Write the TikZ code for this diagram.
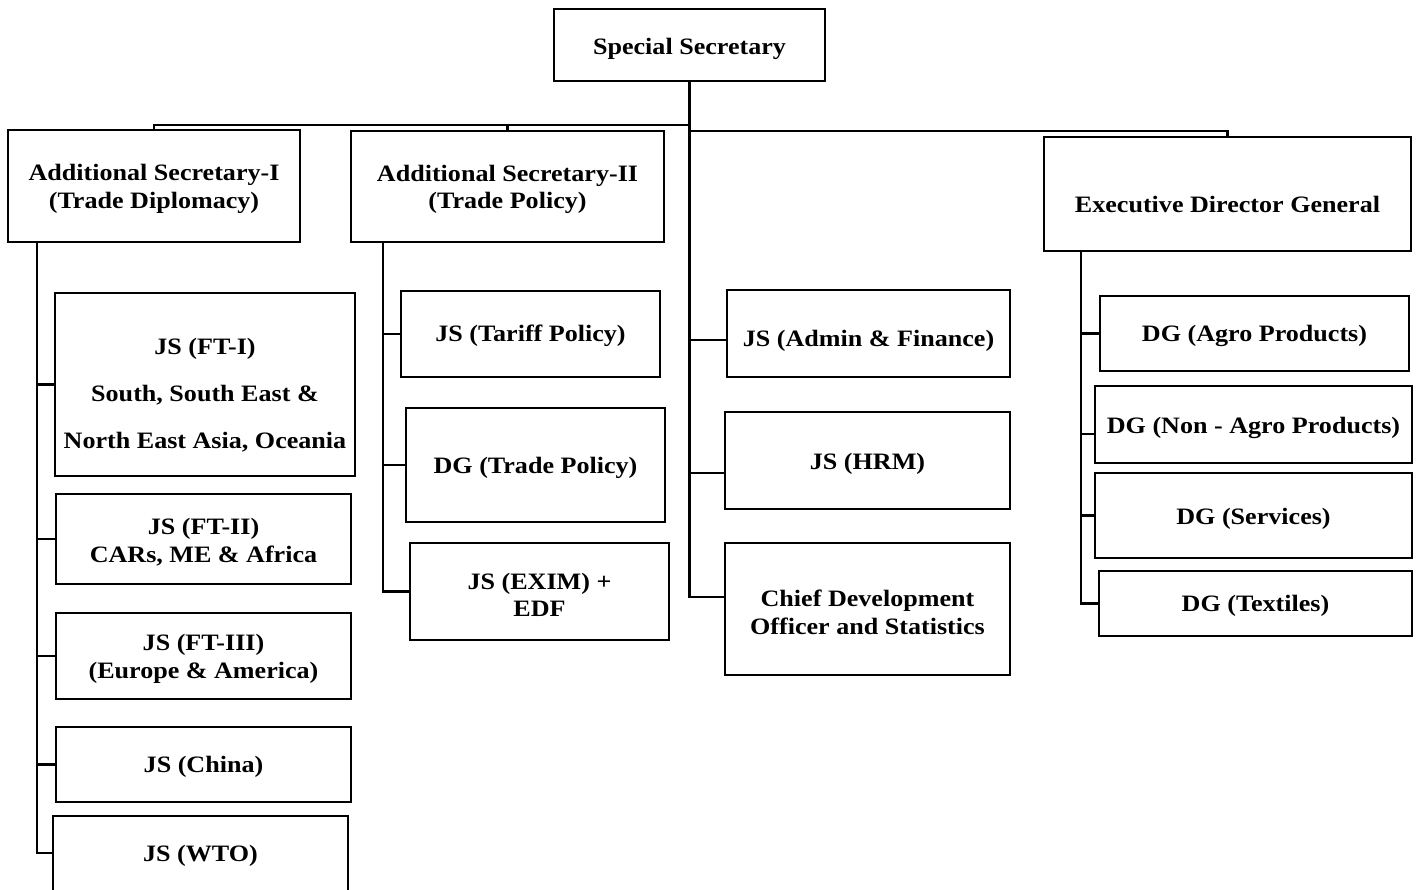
\documentclass[tikz,border=0pt]{standalone}
\usepackage{fontspec}
\setmainfont{Liberation Serif}[FakeStretch=1.11]
\tikzset{
  box/.style={draw, line width=2.8pt, rectangle, inner sep=0pt},
  txt/.style={font=\bfseries\fontsize{23.5}{27.5}\selectfont, align=center, inner sep=0pt, yshift=-3pt},
  conn/.style={line width=2.3pt},
}
\newcommand{\orgbox}[8]{%
  \node[box, minimum width={(#4-#2)*1pt}, minimum height={(#5-#3)*1pt}] (#1) at ({(#2+#4)/2},{(#3+#5)/2}) {};
  \node[txt] (#1-t) at (#6,#7) {#8};}
\begin{document}
\begin{tikzpicture}[x=1pt,y=-1pt]
\useasboundingbox (0,0) rectangle (1416,890);
\fill[white] (0,0) rectangle (1416,890);
\clip (0,0) rectangle (1416,890);

\orgbox{ss}{554}{9}{825}{81}{689.5}{46}{Special Secretary}
\orgbox{as1}{8}{130}{300}{242}{154}{186}{Additional Secretary-I\\(Trade Diplomacy)}
\orgbox{as2}{351}{131}{664}{242}{507.5}{186.5}{Additional Secretary-II\\(Trade Policy)}
\orgbox{edg}{1044}{137}{1411}{251}{1227.5}{201}{Executive Director General}

\orgbox{ft1}{55}{293}{355}{476}{205}{392}{JS (FT-I)\\[19.5pt]South, South East \&\\[19.5pt]North East Asia, Oceania}
\orgbox{ft2}{56}{494}{351}{584}{203.5}{539}{JS (FT-II)\\CARs, ME \& Africa}
\orgbox{ft3}{56}{613}{351}{699}{203.5}{656}{JS (FT-III)\\(Europe \& America)}
\orgbox{china}{56}{727}{351}{802}{203.5}{764}{JS (China)}
\orgbox{wto}{53}{816}{348}{900}{200.5}{853}{JS (WTO)}

\orgbox{tariff}{401}{291}{660}{377}{530.5}{333}{JS (Tariff Policy)}
\orgbox{dgtp}{406}{408}{665}{522}{535.5}{465}{DG (Trade Policy)}
\orgbox{exim}{410}{543}{669}{640}{539.5}{592}{JS (EXIM) +\\EDF}

\orgbox{admin}{727}{290}{1010}{377}{868.5}{338}{JS (Admin \& Finance)}
\orgbox{hrm}{725}{412}{1010}{509}{867.5}{461}{JS (HRM)}
\orgbox{cdo}{725}{543}{1010}{675}{867.5}{609.5}{Chief Development\\Officer and Statistics}

\orgbox{agro}{1100}{296}{1409}{371}{1254.5}{333}{DG (Agro Products)}
\orgbox{nagro}{1095}{386}{1412}{463}{1253.5}{425}{DG (Non - Agro Products)}
\orgbox{serv}{1095}{473}{1412}{558}{1253.5}{516}{DG (Services)}
\orgbox{tex}{1099}{571}{1412}{636}{1255.5}{603}{DG (Textiles)}

% top buses
\coordinate (busL) at (ss.south |- 0,125);
\coordinate (busR) at (ss.south |- 0,131);
\draw[conn] (ss.south) -- (busL);
\draw[conn] (busL) -| (as1.north);
\draw[conn] (busL) -| (as2.north);
\draw[conn] (busR) -| (edg.north);

% AS-I branch
\coordinate (v1) at (37,0 |- as1.south);
\draw[conn] (v1) |- (wto.west |- 0,853);
\foreach \n in {ft1,ft2,ft3,china} \draw[conn] (\n.west) -- (\n.west -| v1);

% AS-II branch
\coordinate (v2) at (383,0 |- as2.south);
\draw[conn] (v2) |- (exim.west);
\foreach \n in {tariff,dgtp} \draw[conn] (\n.west) -- (\n.west -| v2);

% middle branch
\draw[conn] (busL) |- (cdo.west |- 0,597);
\draw[conn] (admin.west |- 0,340) -- (busL |- 0,340);
\draw[conn] (hrm.west |- 0,473) -- (busL |- 0,473);

% EDG branch
\coordinate (v4) at (1081,0 |- edg.south);
\draw[conn] (v4) |- (tex.west);
\foreach \n in {agro,serv} \draw[conn] (\n.west) -- (\n.west -| v4);
\draw[conn] (nagro.west |- 0,434) -- (v4 |- 0,434);
\end{tikzpicture}
\end{document}
